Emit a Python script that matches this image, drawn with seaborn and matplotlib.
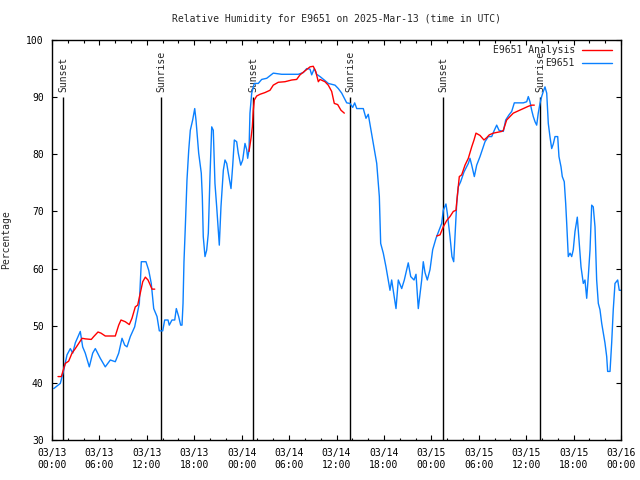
import matplotlib
matplotlib.use('Agg')
import matplotlib.pyplot as plt
import matplotlib.dates as mdates
from matplotlib.lines import Line2D
import seaborn as sns
import numpy as np
import pandas as pd

START = pd.Timestamp('2025-03-13 00:00')

# observed relative humidity (hours since 03/13 00:00 UTC, percent)
blue_hours = [0.22, 1.05, 1.48, 1.90, 2.32, 2.62, 2.95, 3.58, 3.88, 4.21, 4.72, 5.15, 5.48, 6.11,
              6.74, 7.38, 8.01, 8.44, 8.86, 9.20, 9.49, 9.91, 10.46, 11.05, 11.30, 11.89, 12.24,
              12.56, 12.87, 13.29, 13.58, 14.01, 14.26, 14.68, 14.84, 15.18, 15.53, 15.73, 16.03,
              16.28, 16.45, 16.58, 16.70, 16.87, 17.08, 17.30, 17.50, 17.80, 18.06, 18.22, 18.56,
              18.89, 19.02, 19.14, 19.36, 19.57, 19.78, 19.99, 20.21, 20.41, 20.62, 20.84, 21.04,
              21.17, 21.38, 21.68, 21.89, 22.11, 22.31, 22.65, 22.87, 23.07, 23.37, 23.57, 23.88,
              24.13, 24.42, 24.64, 24.76, 24.93, 25.05, 25.27, 25.60, 26.10, 26.53, 27.17, 28.00,
              29.06, 30.33, 31.17, 31.80, 32.23, 32.65, 32.86, 33.19, 33.49, 33.91, 34.54, 34.96,
              35.81, 36.23, 36.66, 36.99, 37.29, 37.71, 38.05, 38.30, 38.56, 39.39, 39.73, 40.02,
              40.33, 40.66, 41.09, 41.42, 41.59, 41.92, 42.26, 42.55, 42.77, 42.98, 43.27, 43.53,
              43.82, 44.25, 44.58, 45.08, 45.39, 45.81, 46.06, 46.35, 46.78, 46.98, 47.20, 47.49,
              47.83, 48.17, 48.59, 49.01, 49.31, 49.51, 49.85, 50.02, 50.36, 50.61, 50.83, 50.99,
              51.21, 51.41, 51.71, 52.13, 52.68, 52.89, 53.11, 53.44, 53.74, 54.16, 54.50, 54.79,
              55.21, 55.64, 55.97, 56.27, 56.56, 57.11, 57.41, 57.83, 58.17, 58.50, 59.00, 59.64,
              60.07, 60.27, 60.48, 60.70, 60.90, 61.12, 61.33, 61.53, 61.75, 61.96, 62.17, 62.38,
              62.60, 62.80, 63.01, 63.23, 63.43, 63.65, 63.99, 64.15, 64.41, 64.57, 64.82, 65.00,
              65.13, 65.33, 65.55, 65.76, 65.96, 66.18, 66.47, 66.68, 66.94, 67.23, 67.44, 67.66,
              67.86, 68.08, 68.29, 68.49, 68.71, 68.92, 69.13, 69.34, 69.56, 69.76, 69.97, 70.19,
              70.31, 70.61, 70.82, 71.02, 71.24, 71.58, 71.78, 72.00]
blue_rh = [39.0, 39.9, 42.2, 44.9, 46.0, 45.2, 47.0, 49.0, 46.3, 45.2, 42.8, 45.2, 46.0, 44.3,
           42.8, 44.0, 43.7, 45.2, 47.8, 46.6, 46.3, 48.1, 49.8, 53.9, 61.2, 61.2, 59.7,
           57.4, 53.0, 51.6, 49.1, 49.1, 51.0, 51.0, 50.1, 51.0, 51.0, 53.0, 51.6,
           50.1, 50.1, 53.9, 61.2, 67.3, 75.5, 80.7, 84.2, 86.0, 88.0, 86.0, 80.2,
           76.7, 72.6, 65.6, 62.1, 63.2, 66.2, 76.1, 84.8, 84.2, 74.9, 70.8, 66.8,
           64.1, 70.8, 77.2, 79.0, 78.4, 76.7, 74.0, 78.1, 82.5, 82.2, 80.2, 78.1,
           79.0, 81.9, 80.8, 79.3, 80.8, 87.2, 90.7, 92.4, 92.4, 93.1, 93.3, 94.2,
           94.0, 94.0, 94.0, 94.3, 95.0, 94.9, 93.9, 95.0, 94.0, 93.6, 92.9, 92.4,
           92.1, 91.5, 90.7, 89.8, 89.0, 88.9, 88.2, 89.0, 88.0, 88.0, 86.3, 87.0,
           84.5, 81.9, 78.4, 72.6, 64.4, 62.7, 60.3, 58.0, 56.2, 58.0, 55.4, 53.0,
           58.0, 56.5, 58.0, 61.0, 58.6, 58.0, 59.0, 53.0, 58.0, 61.2, 59.3, 58.0,
           59.8, 63.3, 65.3, 66.8, 67.9, 70.2, 71.3, 69.7, 65.6, 62.1, 61.2, 65.6,
           71.4, 74.3, 75.2, 76.9, 78.4, 79.3, 78.1, 76.1, 78.1, 79.6, 81.0, 82.2,
           83.1, 83.1, 84.2, 85.1, 84.2, 84.0, 86.0, 86.9, 87.5, 89.0, 89.0, 89.0,
           89.2, 90.1, 89.2, 87.7, 86.6, 85.7, 85.1, 87.2, 88.9, 90.1, 91.0, 91.8,
           90.7, 85.4, 83.1, 81.0, 81.8, 83.1, 83.1, 79.6, 77.8, 76.1, 75.2, 71.4,
           67.9, 62.1, 62.7, 62.1, 63.3, 66.5, 69.0, 65.0, 60.3, 57.4, 58.0, 54.8,
           58.6, 63.3, 71.1, 70.8, 67.3, 58.0, 53.9, 52.8, 50.4, 48.7, 47.0, 44.6,
           42.0, 42.0, 47.0, 52.8, 57.4, 58.0, 56.2, 56.2]

# analysis series, NaN marks the gaps between runs
red_hours = [0.76, 1.18, 1.68, 2.11, 2.53, 2.95, 3.38, 3.80, 4.21, 4.97, 5.28, 5.82, 6.20, 6.74,
             8.01, 8.44, 8.73, 9.27, 9.78, 10.12, 10.54, 10.84, 11.17, 11.48, 11.81, 12.15,
             12.44, 12.65, 13.00, 19.0,
             24.93, 25.18, 25.35, 25.47, 25.60, 25.90, 26.32, 26.95, 27.58, 28.00, 28.63, 29.48,
             30.33, 30.96, 31.38, 32.01, 32.65, 33.06, 33.37, 33.70, 33.91, 34.54, 34.96, 35.39,
             35.72, 36.15, 36.57, 36.99, 43.0,
             48.68, 49.10, 49.51, 49.94, 50.36, 50.78, 51.12, 51.28, 51.54, 51.84, 52.26, 52.68,
             53.11, 53.40, 53.65, 54.16, 54.66, 55.00, 55.33, 55.84, 56.90, 57.11, 57.53, 57.95,
             58.37, 59.00, 59.64, 60.27, 60.70, 61.03]
red_rh = [41.1, 41.1, 43.4, 43.8, 45.2, 46.0, 46.9, 47.8, 47.7, 47.6, 48.1, 48.9, 48.7, 48.2,
          48.2, 50.1, 51.0, 50.7, 50.2, 51.3, 53.3, 53.6, 55.7, 57.7, 58.5, 58.0,
          57.1, 56.4, 56.4, np.nan,
          80.5, 82.8, 84.8, 87.7, 89.5, 90.2, 90.5, 90.8, 91.2, 92.1, 92.6, 92.7,
          93.0, 93.1, 93.9, 94.6, 95.3, 95.4, 94.5, 92.7, 93.1, 92.7, 92.1, 91.0,
          88.9, 88.7, 87.7, 87.2, np.nan,
          65.7, 65.9, 67.3, 68.4, 69.1, 70.0, 70.2, 72.6, 76.1, 76.4, 78.1, 79.3,
          81.3, 82.5, 83.7, 83.3, 82.5, 82.9, 83.4, 83.7, 84.0, 84.2, 86.0, 86.6,
          87.2, 87.6, 88.0, 88.4, 88.6, 88.6]

sun_times = ['2025-03-13 01:26', '2025-03-13 13:47', '2025-03-14 01:28',
             '2025-03-14 13:43', '2025-03-15 01:31', '2025-03-15 13:45']
sun_labels = ['Sunset', 'Sunrise', 'Sunset', 'Sunrise', 'Sunset', 'Sunrise']

RED = '#ff0000'
BLUE = '#0a80ff'

sns.set_style('ticks')
plt.rcParams['font.family'] = ['DejaVu Sans Mono', 'DejaVu Sans']
plt.rcParams['font.size'] = 7

df_blue = pd.DataFrame({'time': START + pd.to_timedelta(blue_hours, unit='h'), 'rh': blue_rh})
df_red = pd.DataFrame({'time': START + pd.to_timedelta(red_hours, unit='h'), 'rh': red_rh})
df_red['seg'] = df_red['rh'].isna().cumsum()
df_red = df_red.dropna()

fig = plt.figure(figsize=(6.4, 4.8), dpi=100)
ax = fig.add_axes([52 / 640, 40 / 480, 569 / 640, 400 / 480])

sun = pd.to_datetime(sun_times)
ax.vlines(sun, 30, 90, color='black', lw=1.0, zorder=1)
for t, lab in zip(sun, sun_labels):
    ax.text(t, 90.9, lab, rotation=90, ha='center', va='bottom', fontsize=7, zorder=1)

sns.lineplot(data=df_red, x='time', y='rh', units='seg', estimator=None,
             color=RED, lw=1.0, ax=ax, zorder=3)
sns.lineplot(data=df_blue, x='time', y='rh', color=BLUE, lw=1.0, ax=ax, zorder=2)

ax.set_xlim(pd.Timestamp('2025-03-13 00:00'), pd.Timestamp('2025-03-16 00:00'))
ax.set_ylim(30, 100)
ax.set_yticks(np.arange(30, 101, 10))
ax.xaxis.set_major_locator(mdates.HourLocator(byhour=[0, 6, 12, 18]))
ax.xaxis.set_minor_locator(mdates.HourLocator(interval=2))
ax.xaxis.set_major_formatter(mdates.DateFormatter('%m/%d\n%H:%M'))
ax.tick_params(which='both', direction='in', top=True, right=True, color='black',
               labelsize=7, labelcolor='black')
ax.tick_params(which='major', length=3.3, width=0.8, pad=6)
ax.tick_params(which='minor', length=1.8, width=0.8)
for s in ax.spines.values():
    s.set_visible(True)
    s.set_color('black')
    s.set_linewidth(1.0)

ax.set_xlabel('')
ax.set_ylabel('Percentage', fontsize=7)
ax.yaxis.set_label_coords(-0.072, 0.5)

fig.text(336 / 640, 1 - 19 / 480, 'Relative Humidity for E9651 on 2025-Mar-13 (time in UTC)',
         ha='center', va='center', fontsize=7)

# legend drawn gnuplot style: right-aligned text, sample line to its right
for i, (lab, col) in enumerate([('E9651 Analysis', RED), ('E9651', BLUE)]):
    y = 0.975 - i * 0.0325
    ax.text(0.919, y, lab, transform=ax.transAxes, ha='right', va='center', fontsize=7)
    ax.add_line(Line2D([0.931, 0.984], [y, y], transform=ax.transAxes, color=col, lw=1.0))

plt.savefig('out.png', dpi=100)
plt.close()
